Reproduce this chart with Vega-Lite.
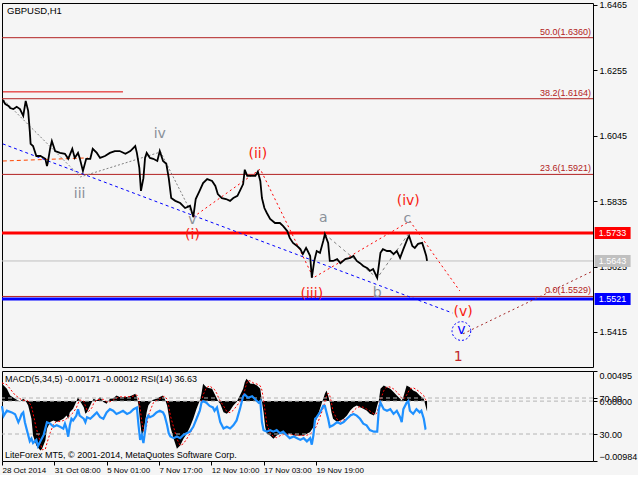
{
  "$schema": "https://vega.github.io/schema/vega-lite/v6.json",
  "background": "#f5f5f5",
  "padding": {"left": -3, "top": 0, "right": 0, "bottom": 0},
  "config": {
    "view": {"stroke": "black", "strokeWidth": 1, "fill": "#f5f5f5"},
    "scale": {"continuousPadding": 0},
    "text": {"font": "Liberation Sans"}
  },
  "datasets": {
    "price": [
      {"t":1,"p":1.6160},{"t":4,"p":1.6147},{"t":8,"p":1.6141},{"t":10,"p":1.6134},{"t":14,"p":1.6131},{"t":18,"p":1.6138},{"t":22,"p":1.6131},{"t":26,"p":1.6109},{"t":29,"p":1.6157},{"t":32,"p":1.6125},{"t":34,"p":1.6060},{"t":35,"p":1.6019},{"t":38,"p":1.6012},{"t":42,"p":1.5980},{"t":47,"p":1.5980},{"t":53,"p":1.5971},{"t":55,"p":1.5948},{"t":56,"p":1.5958},{"t":59,"p":1.6006},{"t":61,"p":1.6028},{"t":65,"p":1.5996},{"t":71,"p":1.5990},{"t":77,"p":1.5987},{"t":81,"p":1.5971},{"t":86,"p":1.6003},{"t":89,"p":1.5974},{"t":93,"p":1.5990},{"t":95,"p":1.5974},{"t":99,"p":1.5932},{"t":103,"p":1.5971},{"t":108,"p":1.5971},{"t":111,"p":1.6003},{"t":116,"p":1.5990},{"t":120,"p":1.5974},{"t":126,"p":1.5980},{"t":132,"p":1.5990},{"t":138,"p":1.5996},{"t":144,"p":1.5996},{"t":151,"p":1.5987},{"t":157,"p":1.5996},{"t":163,"p":1.6012},{"t":165,"p":1.5990},{"t":168,"p":1.5942},{"t":170,"p":1.5868},{"t":173,"p":1.5909},{"t":175,"p":1.5974},{"t":177,"p":1.5990},{"t":181,"p":1.5974},{"t":185,"p":1.5971},{"t":190,"p":1.5964},{"t":193,"p":1.5996},{"t":197,"p":1.5964},{"t":201,"p":1.5955},{"t":204,"p":1.5909},{"t":207,"p":1.5845},{"t":212,"p":1.5836},{"t":218,"p":1.5829},{"t":224,"p":1.5813},{"t":230,"p":1.5820},{"t":234,"p":1.5784},{"t":237,"p":1.5842},{"t":242,"p":1.5870},{"t":246,"p":1.5893},{"t":251,"p":1.5906},{"t":257,"p":1.5900},{"t":261,"p":1.5884},{"t":264,"p":1.5858},{"t":269,"p":1.5845},{"t":274,"p":1.5842},{"t":279,"p":1.5836},{"t":283,"p":1.5845},{"t":288,"p":1.5852},{"t":291,"p":1.5868},{"t":295,"p":1.5890},{"t":297,"p":1.5936},{"t":300,"p":1.5916},{"t":304,"p":1.5916},{"t":310,"p":1.5916},{"t":313,"p":1.5930},{"t":316,"p":1.5900},{"t":318,"p":1.5845},{"t":321,"p":1.5813},{"t":324,"p":1.5797},{"t":328,"p":1.5778},{"t":334,"p":1.5765},{"t":340,"p":1.5765},{"t":344,"p":1.5755},{"t":349,"p":1.5739},{"t":352,"p":1.5717},{"t":356,"p":1.5701},{"t":361,"p":1.5691},{"t":365,"p":1.5681},{"t":368,"p":1.5665},{"t":372,"p":1.5685},{"t":374,"p":1.5675},{"t":377,"p":1.5659},{"t":379,"p":1.5589},{"t":382,"p":1.5643},{"t":385,"p":1.5675},{"t":389,"p":1.5669},{"t":393,"p":1.5707},{"t":395,"p":1.5729},{"t":399,"p":1.5701},{"t":401,"p":1.5643},{"t":405,"p":1.5643},{"t":410,"p":1.5649},{"t":414,"p":1.5636},{"t":420,"p":1.5649},{"t":426,"p":1.5653},{"t":430,"p":1.5659},{"t":434,"p":1.5643},{"t":438,"p":1.5636},{"t":442,"p":1.5627},{"t":447,"p":1.5620},{"t":450,"p":1.5611},{"t":454,"p":1.5617},{"t":459,"p":1.5589},{"t":463,"p":1.5669},{"t":466,"p":1.5681},{"t":471,"p":1.5675},{"t":475,"p":1.5675},{"t":479,"p":1.5665},{"t":483,"p":1.5675},{"t":487,"p":1.5653},{"t":491,"p":1.5681},{"t":496,"p":1.5714},{"t":498,"p":1.5723},{"t":502,"p":1.5691},{"t":505,"p":1.5685},{"t":509,"p":1.5698},{"t":514,"p":1.5701},{"t":516,"p":1.5685},{"t":519,"p":1.5659},{"t":520,"p":1.5643}
    ],
    "macd": [
      {"t":0,"m":0.00284,"s":0.003},{"t":6,"m":0.00202,"s":0.0027},{"t":10,"m":0.00092,"s":0.002},{"t":16,"m":0.00038,"s":0.001},{"t":22,"m":-0.00007,"s":0.0004},{"t":26,"m":0.00038,"s":0.0001},{"t":29,"m":0,"s":0.0002},{"t":32,"m":-0.00072,"s":0},{"t":36,"m":-0.00291,"s":-0.0008},{"t":38,"m":-0.00565,"s":-0.002},{"t":42,"m":-0.0073,"s":-0.0045},{"t":47,"m":-0.00812,"s":-0.0068},{"t":49,"m":-0.00784,"s":-0.008},{"t":53,"m":-0.00647,"s":-0.0079},{"t":55,"m":-0.00455,"s":-0.0069},{"t":59,"m":-0.00345,"s":-0.0052},{"t":63,"m":-0.00319,"s":-0.0038},{"t":67,"m":-0.00345,"s":-0.0033},{"t":71,"m":-0.00319,"s":-0.00335},{"t":75,"m":-0.00291,"s":-0.0032},{"t":79,"m":-0.00237,"s":-0.0029},{"t":81,"m":-0.00291,"s":-0.0026},{"t":83,"m":-0.00181,"s":-0.0024},{"t":87,"m":-0.00127,"s":-0.0019},{"t":91,"m":-0.00007,"s":-0.0011},{"t":93,"m":0.00066,"s":-0.0004},{"t":95,"m":0.0001,"s":0.0002},{"t":100,"m":-0.00099,"s":0},{"t":102,"m":-0.00209,"s":-0.0008},{"t":104,"m":-0.00181,"s":-0.0015},{"t":106,"m":-0.00127,"s":-0.0017},{"t":110,"m":-0.00016,"s":-0.0011},{"t":112,"m":0.00038,"s":-0.0004},{"t":116,"m":0.0001,"s":0.0002},{"t":120,"m":0.00066,"s":0.0003},{"t":124,"m":-0.00016,"s":0.0003},{"t":128,"m":-0.00044,"s":-0.0001},{"t":132,"m":0.00038,"s":-0.0001},{"t":136,"m":0.00044,"s":0.0002},{"t":140,"m":0.00092,"s":0.0005},{"t":144,"m":0.00066,"s":0.0007},{"t":153,"m":0.00066,"s":0.0007},{"t":159,"m":0.00092,"s":0.00075},{"t":163,"m":0.0012,"s":0.00095},{"t":165,"m":0.00066,"s":0.001},{"t":167,"m":-0.00072,"s":0.0004},{"t":169,"m":-0.00345,"s":-0.0012},{"t":171,"m":-0.00565,"s":-0.0033},{"t":173,"m":-0.00509,"s":-0.0048},{"t":175,"m":-0.00345,"s":-0.005},{"t":177,"m":-0.00181,"s":-0.004},{"t":179,"m":-0.00072,"s":-0.0024},{"t":183,"m":0,"s":-0.001},{"t":185,"m":0.00021,"s":-0.0003},{"t":189,"m":0.00038,"s":0.0001},{"t":193,"m":0.00066,"s":0.0004},{"t":197,"m":0.00092,"s":0.0007},{"t":199,"m":0.00038,"s":0.0008},{"t":202,"m":-0.00072,"s":0.0003},{"t":204,"m":-0.00237,"s":-0.0008},{"t":206,"m":-0.00427,"s":-0.0024},{"t":210,"m":-0.0062,"s":-0.0043},{"t":214,"m":-0.00784,"s":-0.0062},{"t":218,"m":-0.0073,"s":-0.0073},{"t":222,"m":-0.0062,"s":-0.007},{"t":226,"m":-0.00537,"s":-0.0062},{"t":230,"m":-0.00427,"s":-0.0053},{"t":234,"m":-0.00291,"s":-0.0042},{"t":238,"m":-0.00127,"s":-0.0028},{"t":242,"m":0.0001,"s":-0.0013},{"t":244,"m":0.0012,"s":-0.0003},{"t":246,"m":0.00284,"s":0.001},{"t":250,"m":0.0023,"s":0.0022},{"t":254,"m":0.0021,"s":0.0025},{"t":257,"m":0.00202,"s":0.0022},{"t":260,"m":0.0012,"s":0.0019},{"t":263,"m":0.00038,"s":0.0012},{"t":265,"m":-0.00016,"s":0.0005},{"t":267,"m":-0.00044,"s":0},{"t":271,"m":-0.00181,"s":-0.0008},{"t":275,"m":-0.00209,"s":-0.0017},{"t":279,"m":-0.00154,"s":-0.0019},{"t":283,"m":-0.00072,"s":-0.0015},{"t":287,"m":-0.00016,"s":-0.0008},{"t":291,"m":0.00092,"s":-0.0001},{"t":295,"m":0.00202,"s":0.0009},{"t":297,"m":0.00312,"s":0.0018},{"t":299,"m":0.00366,"s":0.0028},{"t":301,"m":0.00339,"s":0.0034},{"t":304,"m":0.00284,"s":0.0033},{"t":308,"m":0.00284,"s":0.00295},{"t":312,"m":0.00256,"s":0.0028},{"t":316,"m":0.00202,"s":0.0025},{"t":318,"m":-0.00016,"s":0.0018},{"t":320,"m":-0.00181,"s":0.0002},{"t":322,"m":-0.00427,"s":-0.0018},{"t":324,"m":-0.00537,"s":-0.0038},{"t":328,"m":-0.00565,"s":-0.0052},{"t":332,"m":-0.0062,"s":-0.0058},{"t":336,"m":-0.00565,"s":-0.006},{"t":340,"m":-0.00537,"s":-0.0057},{"t":344,"m":-0.00537,"s":-0.0055},{"t":348,"m":-0.00565,"s":-0.00545},{"t":352,"m":-0.00537,"s":-0.0055},{"t":357,"m":-0.00565,"s":-0.0055},{"t":361,"m":-0.00565,"s":-0.0056},{"t":365,"m":-0.00565,"s":-0.00565},{"t":369,"m":-0.00565,"s":-0.00565},{"t":373,"m":-0.00537,"s":-0.0056},{"t":377,"m":-0.00509,"s":-0.0054},{"t":381,"m":-0.00427,"s":-0.005},{"t":385,"m":-0.00291,"s":-0.004},{"t":389,"m":-0.00127,"s":-0.0026},{"t":393,"m":0.00038,"s":-0.0011},{"t":395,"m":0.0012,"s":-0.0001},{"t":397,"m":0.00174,"s":0.0008},{"t":399,"m":0.00092,"s":0.0013},{"t":401,"m":-0.00016,"s":0.0009},{"t":403,"m":-0.00181,"s":-0.0002},{"t":405,"m":-0.00291,"s":-0.0017},{"t":410,"m":-0.00345,"s":-0.003},{"t":414,"m":-0.00319,"s":-0.0033},{"t":418,"m":-0.00291,"s":-0.0031},{"t":422,"m":-0.00237,"s":-0.0028},{"t":426,"m":-0.00154,"s":-0.0023},{"t":430,"m":-0.00099,"s":-0.0016},{"t":434,"m":-0.00072,"s":-0.0011},{"t":438,"m":-0.00099,"s":-0.0009},{"t":442,"m":-0.00127,"s":-0.001},{"t":446,"m":-0.00154,"s":-0.0013},{"t":450,"m":-0.00209,"s":-0.0016},{"t":455,"m":-0.00237,"s":-0.0021},{"t":457,"m":-0.00181,"s":-0.0022},{"t":459,"m":-0.00072,"s":-0.0018},{"t":461,"m":0.0001,"s":-0.0009},{"t":463,"m":0.00202,"s":0.0002},{"t":467,"m":0.00256,"s":0.0017},{"t":471,"m":0.0023,"s":0.0024},{"t":475,"m":0.00202,"s":0.0023},{"t":479,"m":0.00148,"s":0.002},{"t":483,"m":0.00092,"s":0.0015},{"t":487,"m":0.00038,"s":0.0009},{"t":489,"m":0.0001,"s":0.0005},{"t":491,"m":0.00066,"s":0.0003},{"t":495,"m":0.00256,"s":0.001},{"t":499,"m":0.0023,"s":0.002},{"t":503,"m":0.00174,"s":0.0022},{"t":507,"m":0.00148,"s":0.0019},{"t":511,"m":0.00092,"s":0.0015},{"t":516,"m":0.00038,"s":0.0009},{"t":518,"m":-0.00072,"s":0.0003},{"t":520,"m":-0.00171,"s":-0.00012}
    ],
    "rsi": [
      {"t":0,"r":61},{"t":2,"r":50},{"t":6,"r":56},{"t":12,"r":54},{"t":16,"r":52},{"t":20,"r":43},{"t":22,"r":47},{"t":24,"r":52},{"t":26,"r":54},{"t":28,"r":43},{"t":30,"r":36},{"t":34,"r":22},{"t":36,"r":25},{"t":38,"r":20},{"t":42,"r":23.5},{"t":44,"r":16.5},{"t":47,"r":22},{"t":51,"r":29},{"t":53,"r":36},{"t":55,"r":43},{"t":59,"r":41.5},{"t":63,"r":38},{"t":67,"r":39.7},{"t":71,"r":38},{"t":75,"r":36},{"t":77,"r":41.5},{"t":79,"r":36},{"t":81,"r":27},{"t":83,"r":39.7},{"t":85,"r":47},{"t":87,"r":45},{"t":91,"r":50.4},{"t":93,"r":57.6},{"t":95,"r":50.4},{"t":100,"r":47},{"t":102,"r":43},{"t":104,"r":48.7},{"t":108,"r":47},{"t":112,"r":50.4},{"t":116,"r":54},{"t":120,"r":48.7},{"t":124,"r":47},{"t":128,"r":54},{"t":132,"r":57.6},{"t":136,"r":55.8},{"t":140,"r":52.3},{"t":144,"r":54},{"t":148,"r":55.8},{"t":153,"r":52.3},{"t":157,"r":54},{"t":161,"r":57.6},{"t":165,"r":59.5},{"t":167,"r":39.7},{"t":169,"r":23.5},{"t":171,"r":29},{"t":173,"r":20},{"t":175,"r":32.6},{"t":177,"r":47},{"t":179,"r":50.4},{"t":181,"r":48.7},{"t":185,"r":50.4},{"t":189,"r":54},{"t":193,"r":55.8},{"t":197,"r":54},{"t":199,"r":50.4},{"t":202,"r":39.7},{"t":204,"r":30.8},{"t":206,"r":27.2},{"t":210,"r":25.4},{"t":214,"r":27.2},{"t":218,"r":25.4},{"t":222,"r":28.9},{"t":226,"r":30.8},{"t":230,"r":32.6},{"t":234,"r":38},{"t":238,"r":46.9},{"t":242,"r":55.8},{"t":244,"r":64.8},{"t":246,"r":66.6},{"t":250,"r":64.8},{"t":254,"r":61.2},{"t":258,"r":59.5},{"t":260,"r":55.8},{"t":263,"r":59.5},{"t":267,"r":43.3},{"t":271,"r":36.1},{"t":275,"r":38},{"t":279,"r":36.1},{"t":283,"r":39.7},{"t":287,"r":45.1},{"t":291,"r":57.6},{"t":295,"r":71.9},{"t":297,"r":73.8},{"t":301,"r":70.2},{"t":306,"r":71.9},{"t":310,"r":68.4},{"t":314,"r":64.8},{"t":316,"r":66.6},{"t":318,"r":43.3},{"t":320,"r":34.3},{"t":324,"r":32.6},{"t":328,"r":34.3},{"t":332,"r":32.6},{"t":336,"r":34.3},{"t":340,"r":30.8},{"t":344,"r":32.6},{"t":348,"r":28.9},{"t":352,"r":25.4},{"t":357,"r":27.2},{"t":361,"r":25.4},{"t":365,"r":23.5},{"t":369,"r":25.4},{"t":373,"r":21.8},{"t":377,"r":25.4},{"t":379,"r":18.2},{"t":381,"r":28.9},{"t":383,"r":46.9},{"t":385,"r":48.7},{"t":389,"r":54},{"t":393,"r":61.2},{"t":395,"r":61.2},{"t":397,"r":54},{"t":399,"r":46.9},{"t":401,"r":38},{"t":405,"r":39.7},{"t":410,"r":43.3},{"t":414,"r":41.5},{"t":418,"r":43.3},{"t":422,"r":46.9},{"t":426,"r":50.4},{"t":430,"r":52.3},{"t":434,"r":50.4},{"t":438,"r":46.9},{"t":442,"r":41.5},{"t":446,"r":39.7},{"t":450,"r":34.3},{"t":455,"r":32.6},{"t":459,"r":32.6},{"t":461,"r":57.6},{"t":463,"r":64.8},{"t":467,"r":57.6},{"t":471,"r":55.8},{"t":475,"r":57.6},{"t":479,"r":52.3},{"t":483,"r":55.8},{"t":487,"r":48.7},{"t":489,"r":43.3},{"t":491,"r":57.6},{"t":495,"r":64.8},{"t":497,"r":66.6},{"t":499,"r":55.8},{"t":503,"r":52.3},{"t":507,"r":57.6},{"t":511,"r":54},{"t":513,"r":55.8},{"t":516,"r":46.9},{"t":518,"r":36.1},{"t":519,"r":36.63}
    ]
  },
  "vconcat": [
    {
      "width": 591,
      "height": 364,
      "layer": [
        {
          "data": {"values": [{"p": 1.636}, {"p": 1.6164}, {"p": 1.5921}]},
          "mark": {"type": "rule", "color": "#b22222", "strokeWidth": 1},
          "encoding": {
            "y": {"field": "p", "type": "quantitative", "scale": {"domain": [1.53025, 1.64714], "nice": false, "zero": false, "padding": 0},
              "axis": {"orient": "right", "values": [1.6465, 1.636, 1.6255, 1.615, 1.6045, 1.594, 1.5835, 1.573, 1.5625, 1.552, 1.5415], "format": ".4f", "title": null, "grid": false, "domain": false, "ticks": true, "tickSize": 4, "tickColor": "black", "labelColor": "black", "labelFont": "Liberation Sans", "labelFontSize": 9, "labelPadding": 2}}
          }
        },
        {
          "data": {"values": [{"t0": 1, "t1": 148, "p": 1.6186}]},
          "mark": {"type": "rule", "color": "#e00000", "strokeWidth": 1},
          "encoding": {
            "x": {"field": "t0", "type": "quantitative", "scale": {"domain": [0, 723], "nice": false, "zero": false, "padding": 0}, "axis": null},
            "x2": {"field": "t1"},
            "y": {"field": "p", "type": "quantitative"}
          }
        },
        {
          "data": {"values": [{"p": 1.5643}]},
          "mark": {"type": "rule", "color": "#c0c0c0", "strokeWidth": 1},
          "encoding": {"y": {"field": "p", "type": "quantitative"}}
        },
        {
          "data": {"values": [{"p": 1.5733}]},
          "mark": {"type": "rule", "color": "#ff0000", "strokeWidth": 3},
          "encoding": {"y": {"field": "p", "type": "quantitative"}}
        },
        {
          "data": {"values": [{"p": 1.5521}]},
          "mark": {"type": "rule", "color": "#0000ff", "strokeWidth": 3},
          "encoding": {"y": {"field": "p", "type": "quantitative"}}
        },
        {
          "data": {"values": [{"p": 1.5529}]},
          "mark": {"type": "rule", "color": "#b22222", "strokeWidth": 1},
          "encoding": {"y": {"field": "p", "type": "quantitative"}}
        },
        {
          "data": {"values": [{"t": 1, "p": 1.6019}, {"t": 551, "p": 1.5476}]},
          "mark": {"type": "line", "color": "#0000ff", "strokeWidth": 1, "strokeDash": [3, 3]},
          "encoding": {"x": {"field": "t", "type": "quantitative", "axis": null}, "y": {"field": "p", "type": "quantitative"}}
        },
        {
          "data": {"values": [{"t": 1, "p": 1.5964}, {"t": 105, "p": 1.5974}]},
          "mark": {"type": "line", "color": "#ff4500", "strokeWidth": 1, "strokeDash": [4, 3]},
          "encoding": {"x": {"field": "t", "type": "quantitative", "axis": null}, "y": {"field": "p", "type": "quantitative"}}
        },
        {
          "data": {"values": [{"t": 2, "p": 1.6160}, {"t": 96, "p": 1.5913}, {"t": 194, "p": 1.5993}, {"t": 233, "p": 1.5791}]},
          "mark": {"type": "line", "color": "#808080", "strokeWidth": 1, "strokeDash": [2, 2]},
          "encoding": {"x": {"field": "t", "type": "quantitative", "axis": null}, "y": {"field": "p", "type": "quantitative"}, "order": {"field": "t"}}
        },
        {
          "data": {"values": [{"t": 395, "p": 1.5729}, {"t": 459, "p": 1.5588}, {"t": 497, "p": 1.5729}]},
          "mark": {"type": "line", "color": "#808080", "strokeWidth": 1, "strokeDash": [3, 3]},
          "encoding": {"x": {"field": "t", "type": "quantitative", "axis": null}, "y": {"field": "p", "type": "quantitative"}, "order": {"field": "t"}}
        },
        {
          "data": {"values": [{"t": 234, "p": 1.5784}, {"t": 316, "p": 1.5938}, {"t": 381, "p": 1.5589}, {"t": 499, "p": 1.5771}, {"t": 560, "p": 1.5547}]},
          "mark": {"type": "line", "color": "#ff0000", "strokeWidth": 1, "strokeDash": [2, 3]},
          "encoding": {"x": {"field": "t", "type": "quantitative", "axis": null}, "y": {"field": "p", "type": "quantitative"}, "order": {"field": "t"}}
        },
        {
          "data": {"values": [{"t": 564, "p": 1.5409}, {"t": 723, "p": 1.5611}]},
          "mark": {"type": "line", "color": "#a52a2a", "strokeWidth": 1, "strokeDash": [2, 3]},
          "encoding": {"x": {"field": "t", "type": "quantitative", "axis": null}, "y": {"field": "p", "type": "quantitative"}}
        },
        {
          "data": {"name": "price"},
          "mark": {"type": "line", "color": "black", "strokeWidth": 1.8},
          "encoding": {"x": {"field": "t", "type": "quantitative", "axis": null}, "y": {"field": "p", "type": "quantitative"}, "order": {"field": "t"}}
        },
        {
          "data": {"values": [{"p": 1.636, "lab": "50.0(1.6360)"}, {"p": 1.6164, "lab": "38.2(1.6164)"}, {"p": 1.5921, "lab": "23.6(1.5921)"}, {"p": 1.5529, "lab": "0.0(1.5529)"}]},
          "mark": {"type": "text", "align": "right", "baseline": "bottom", "dx": -2, "dy": -1, "fontSize": 9, "color": "#b22222"},
          "encoding": {"x": {"datum": 723, "type": "quantitative", "axis": null}, "y": {"field": "p", "type": "quantitative"}, "text": {"field": "lab"}}
        },
        {
          "data": {"values": [{"t": 95, "p": 1.5858, "lab": "iii"}, {"t": 193, "p": 1.6051, "lab": "iv"}, {"t": 233, "p": 1.5776, "lab": "v"}, {"t": 393, "p": 1.5781, "lab": "a"}, {"t": 459, "p": 1.5540, "lab": "b"}, {"t": 496, "p": 1.5779, "lab": "c"}]},
          "mark": {"type": "text", "align": "center", "baseline": "middle", "font": "DejaVu Sans", "fontSize": 14, "color": "#8a9099"},
          "encoding": {"x": {"field": "t", "type": "quantitative", "axis": null}, "y": {"field": "p", "type": "quantitative"}, "text": {"field": "lab"}}
        },
        {
          "data": {"values": [{"t": 233, "p": 1.5727, "lab": "(i)"}, {"t": 313, "p": 1.5987, "lab": "(ii)"}, {"t": 379, "p": 1.5537, "lab": "(iii)"}, {"t": 497, "p": 1.5834, "lab": "(iv)"}, {"t": 564, "p": 1.5479, "lab": "(v)"}]},
          "mark": {"type": "text", "align": "center", "baseline": "middle", "font": "DejaVu Sans", "fontSize": 14, "color": "#f81a10"},
          "encoding": {"x": {"field": "t", "type": "quantitative", "axis": null}, "y": {"field": "p", "type": "quantitative"}, "text": {"field": "lab"}}
        },
        {
          "data": {"values": [{"t": 562, "p": 1.5418}]},
          "mark": {"type": "point", "shape": "circle", "size": 350, "filled": false, "color": "#0000ff", "strokeWidth": 1, "strokeDash": [2, 2], "opacity": 1},
          "encoding": {"x": {"field": "t", "type": "quantitative", "axis": null}, "y": {"field": "p", "type": "quantitative"}}
        },
        {
          "data": {"values": [{"t": 562, "p": 1.5420, "lab": "v"}]},
          "mark": {"type": "text", "align": "center", "baseline": "middle", "font": "DejaVu Sans", "fontSize": 14, "color": "#0000ff"},
          "encoding": {"x": {"field": "t", "type": "quantitative", "axis": null}, "y": {"field": "p", "type": "quantitative"}, "text": {"field": "lab"}}
        },
        {
          "data": {"values": [{"t": 558, "p": 1.5335, "lab": "1"}]},
          "mark": {"type": "text", "align": "center", "baseline": "middle", "font": "DejaVu Sans", "fontSize": 14, "color": "#c0282a"},
          "encoding": {"x": {"field": "t", "type": "quantitative", "axis": null}, "y": {"field": "p", "type": "quantitative"}, "text": {"field": "lab"}}
        },
        {
          "data": {"values": [{"lab": "GBPUSD,H1"}]},
          "mark": {"type": "text", "align": "left", "baseline": "middle", "dx": 5, "fontSize": 9.5, "color": "black"},
          "encoding": {"x": {"datum": 0, "type": "quantitative", "axis": null}, "y": {"datum": 1.6446, "type": "quantitative"}, "text": {"field": "lab"}}
        },
        {
          "data": {"values": [{"p": 1.5733, "lab": "1.5733", "k": "a"}, {"p": 1.5643, "lab": "1.5643", "k": "b"}, {"p": 1.5521, "lab": "1.5521", "k": "c"}]},
          "layer": [
            {
              "mark": {"type": "bar", "size": 12},
              "encoding": {
                "x": {"datum": 725, "type": "quantitative", "axis": null},
                "x2": {"datum": 769},
                "y": {"field": "p", "type": "quantitative"},
                "color": {"field": "k", "type": "nominal", "scale": {"domain": ["a", "b", "c"], "range": ["#ff0000", "#c0c0c0", "#0000ff"]}, "legend": null}
              }
            },
            {
              "mark": {"type": "text", "align": "center", "baseline": "middle", "fontSize": 9, "color": "white"},
              "encoding": {
                "x": {"datum": 747, "type": "quantitative", "axis": null},
                "y": {"field": "p", "type": "quantitative"},
                "text": {"field": "lab"}
              }
            }
          ]
        }
      ]
    },
    {
      "width": 591,
      "height": 90,
      "layer": [
        {
          "layer": [
            {
              "data": {"name": "macd"},
              "mark": {"type": "area", "color": "black", "interpolate": "linear"},
              "encoding": {
                "x": {"field": "t", "type": "quantitative", "scale": {"domain": [0, 723], "nice": false, "zero": false, "padding": 0},
                  "axis": {"values": [0, 64, 128, 192, 256, 320, 384], "labelExpr": "datum.value == 0 ? '28 Oct 2014' : datum.value == 64 ? '31 Oct 08:00' : datum.value == 128 ? '5 Nov 01:00' : datum.value == 192 ? '7 Nov 17:00' : datum.value == 256 ? '12 Nov 10:00' : datum.value == 320 ? '17 Nov 03:00' : '19 Nov 19:00'", "labelAlign": "left", "title": null, "grid": false, "domain": false, "tickSize": 4, "tickColor": "black", "labelColor": "black", "labelFont": "Liberation Sans", "labelFontSize": 8, "labelPadding": 1, "labelFlush": false, "labelOverlap": false, "labelBound": false}},
                "y": {"field": "m", "type": "quantitative", "scale": {"domain": [-0.00984, 0.00495], "nice": false, "zero": false},
                  "axis": {"orient": "right", "values": [0.00495, 0, -0.00984], "format": ".5f", "title": null, "grid": false, "domain": false, "tickSize": 4, "tickColor": "black", "labelColor": "black", "labelFont": "Liberation Sans", "labelFontSize": 9, "labelPadding": 2, "labelFlush": true}},
                "y2": {"datum": 0}
              }
            },
            {
              "data": {"values": [{"v": 0}]},
              "mark": {"type": "rule", "color": "#b4b4b4", "strokeWidth": 1, "strokeDash": [4, 3]},
              "encoding": {"y": {"field": "v", "type": "quantitative", "scale": {"domain": [-0.00984, 0.00495], "nice": false, "zero": false}}}
            },
            {
              "data": {"name": "macd"},
              "mark": {"type": "line", "color": "#ff0000", "strokeWidth": 1, "strokeDash": [2, 2]},
              "encoding": {
                "x": {"field": "t", "type": "quantitative"},
                "y": {"field": "s", "type": "quantitative", "scale": {"domain": [-0.00984, 0.00495], "nice": false, "zero": false}}
              }
            },
            {
              "data": {"values": [{"lab": "MACD(5,34,5) -0.00171 -0.00012 RSI(14) 36.63", "v": 0.0037}, {"lab": "LiteForex MT5, © 2001-2014, MetaQuotes Software Corp.", "v": -0.0089}]},
              "mark": {"type": "text", "align": "left", "baseline": "middle", "dx": 3, "fontSize": 9, "color": "black"},
              "encoding": {
                "x": {"datum": 0, "type": "quantitative"},
                "y": {"field": "v", "type": "quantitative", "scale": {"domain": [-0.00984, 0.00495], "nice": false, "zero": false}},
                "text": {"field": "lab"}
              }
            }
          ]
        },
        {
          "layer": [
            {
              "data": {"values": [{"v": 70}, {"v": 30}]},
              "mark": {"type": "rule", "color": "#b4b4b4", "strokeWidth": 1, "strokeDash": [4, 3]},
              "encoding": {
                "y": {"field": "v", "type": "quantitative", "scale": {"domain": [0, 100], "nice": false, "zero": false},
                  "axis": {"orient": "right", "values": [70, 30], "format": ".2f", "title": null, "grid": false, "domain": false, "tickSize": 4, "tickColor": "black", "labelColor": "black", "labelFont": "Liberation Sans", "labelFontSize": 9, "labelPadding": 2}}
              }
            },
            {
              "data": {"name": "rsi"},
              "mark": {"type": "line", "color": "#1e90ff", "strokeWidth": 2.2, "interpolate": "linear"},
              "encoding": {
                "x": {"field": "t", "type": "quantitative"},
                "y": {"field": "r", "type": "quantitative", "scale": {"domain": [0, 100], "nice": false, "zero": false}}
              }
            }
          ]
        }
      ],
      "resolve": {"scale": {"y": "independent"}, "axis": {"y": "independent"}}
    }
  ],
  "spacing": 2
}
